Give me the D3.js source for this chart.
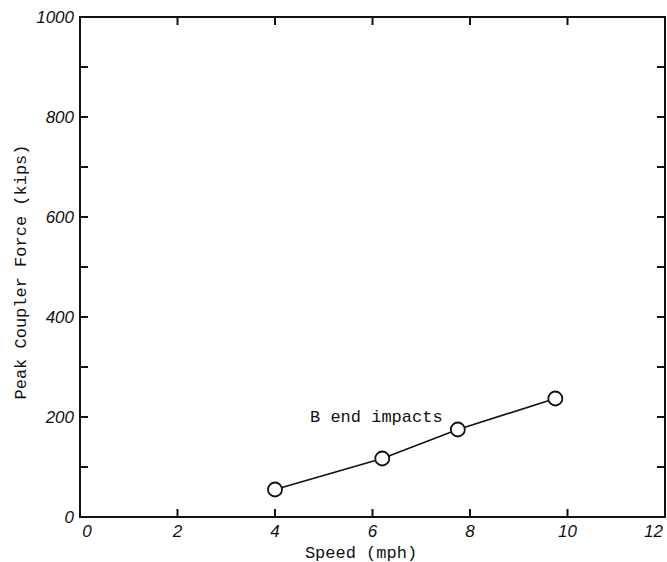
<!DOCTYPE html>
<html>
<head>
<meta charset="utf-8">
<script src="https://cdn.jsdelivr.net/npm/d3@7"></script>
<style>
  body { margin: 0; background: #fff; }
  .tick-label { font-family: "Liberation Sans", "DejaVu Sans", sans-serif; font-size: 17px; font-style: italic; fill: #111; }
  .mono { font-family: "Liberation Mono", "DejaVu Sans Mono", monospace; font-size: 17px; fill: #111; }
</style>
</head>
<body>
<div class="graphic"></div>
<script>
const speeds = [4.0, 6.2, 7.75, 9.75];
const forces = [55, 117, 175, 237];
const xTicks = [0, 2, 4, 6, 8, 10, 12];
const yTicks = [0, 100, 200, 300, 400, 500, 600, 700, 800, 900, 1000];
const yLabels = [0, 200, 400, 600, 800, 1000];
const seriesLabel = 'B end impacts';

const width = 667, height = 562;
const plotLeft = 80, plotRight = 665, plotTop = 17, plotBottom = 517;

const x = d3.scaleLinear().domain([0, 12]).range([plotLeft, plotRight]);
const y = d3.scaleLinear().domain([0, 1000]).range([plotBottom, plotTop]);

const svg = d3.select('.graphic').append('svg')
  .attr('width', width)
  .attr('height', height);

// frame
svg.append('rect')
  .attr('x', plotLeft).attr('y', plotTop)
  .attr('width', plotRight - plotLeft).attr('height', plotBottom - plotTop)
  .attr('fill', 'none').attr('stroke', '#111').attr('stroke-width', 2);

const tickLen = 8;

// inward ticks, x (bottom and top), skip ends
svg.selectAll('line.xb').data(xTicks.filter(d => d > 0 && d < 12)).enter()
  .append('line').attr('class', 'xb')
  .attr('x1', d => x(d)).attr('x2', d => x(d))
  .attr('y1', plotBottom).attr('y2', plotBottom - tickLen)
  .attr('stroke', '#111').attr('stroke-width', 2);

svg.selectAll('line.xt').data(xTicks.filter(d => d > 0 && d < 12)).enter()
  .append('line').attr('class', 'xt')
  .attr('x1', d => x(d)).attr('x2', d => x(d))
  .attr('y1', plotTop).attr('y2', plotTop + tickLen)
  .attr('stroke', '#111').attr('stroke-width', 2);

// inward ticks, y (left and right)
svg.selectAll('line.yl').data(yTicks.filter(d => d > 0 && d < 1000)).enter()
  .append('line').attr('class', 'yl')
  .attr('x1', plotLeft).attr('x2', plotLeft + tickLen)
  .attr('y1', d => y(d)).attr('y2', d => y(d))
  .attr('stroke', '#111').attr('stroke-width', 2);

svg.selectAll('line.yr').data(yTicks.filter(d => d > 0 && d < 1000)).enter()
  .append('line').attr('class', 'yr')
  .attr('x1', plotRight).attr('x2', plotRight - tickLen)
  .attr('y1', d => y(d)).attr('y2', d => y(d))
  .attr('stroke', '#111').attr('stroke-width', 2);

// tick labels (end labels nudged inside the frame)
svg.selectAll('text.xl').data(xTicks).enter()
  .append('text').attr('class', 'tick-label')
  .attr('x', d => x(d) + (d === 0 ? 7 : d === 12 ? -2 : 0))
  .attr('y', plotBottom + 20)
  .attr('text-anchor', d => d === 12 ? 'end' : 'middle')
  .text(d => d);

svg.selectAll('text.yl').data(yLabels).enter()
  .append('text').attr('class', 'tick-label')
  .attr('x', plotLeft - 6)
  .attr('y', d => y(d) + 6)
  .attr('text-anchor', 'end')
  .text(d => d);

// axis titles
svg.append('text').attr('class', 'mono')
  .attr('x', 361).attr('y', 558)
  .attr('text-anchor', 'middle')
  .text('Speed (mph)');

svg.append('text').attr('class', 'mono')
  .attr('transform', 'translate(26,272) rotate(-90)')
  .attr('text-anchor', 'middle')
  .text('Peak Coupler Force (kips)');

// series
const pts = speeds.map((s, i) => [s, forces[i]]);

svg.append('path')
  .datum(pts)
  .attr('fill', 'none').attr('stroke', '#111').attr('stroke-width', 1.6)
  .attr('d', d3.line().x(d => x(d[0])).y(d => y(d[1])));

svg.selectAll('circle').data(pts).enter()
  .append('circle')
  .attr('cx', d => x(d[0])).attr('cy', d => y(d[1]))
  .attr('r', 7)
  .attr('fill', '#fff').attr('stroke', '#111').attr('stroke-width', 1.8);

svg.append('text').attr('class', 'mono')
  .attr('x', 310).attr('y', 422)
  .text(seriesLabel);
</script>
</body>
</html>
